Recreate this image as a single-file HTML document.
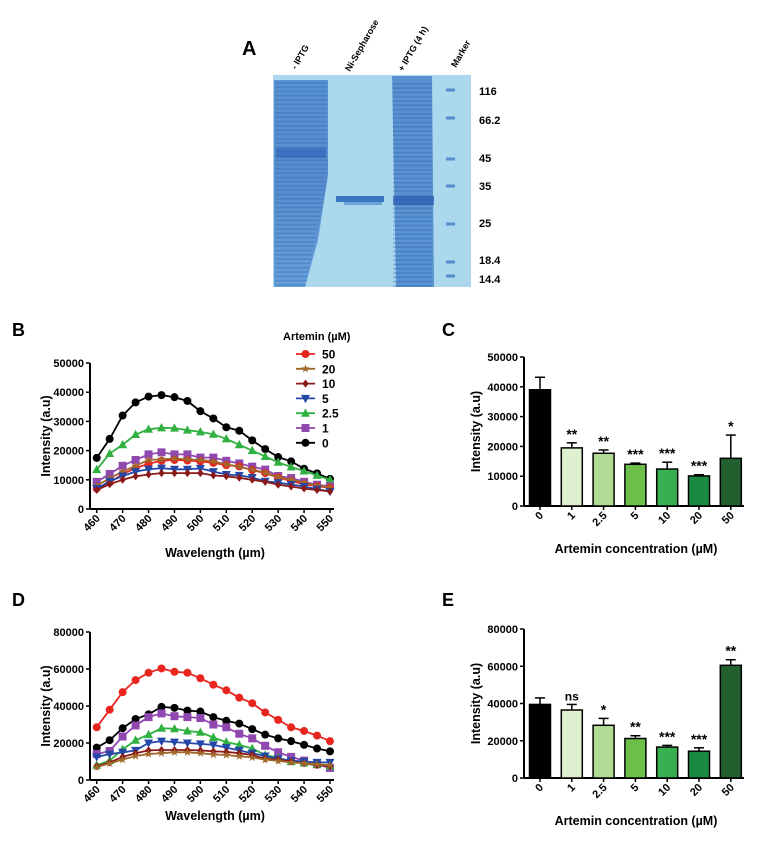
<!DOCTYPE html>
<html><head><meta charset="utf-8"><style>
body{margin:0;background:#fff;width:771px;height:851px;overflow:hidden;font-family:"Liberation Sans",Arial,sans-serif}
svg text{font-family:"Liberation Sans",Arial,sans-serif;font-weight:bold}
</style></head><body>
<svg id="fig" width="771" height="851" viewBox="0 0 771 851" xmlns="http://www.w3.org/2000/svg">
<g id="gel">
<text x="242" y="55" font-size="20">A</text>
<defs>
<linearGradient id="l1" x1="0" y1="0" x2="0" y2="1"><stop offset="0" stop-color="#4a86cc"/><stop offset="0.5" stop-color="#4a80c8"/><stop offset="1" stop-color="#5a96d4"/></linearGradient>
<linearGradient id="l3" x1="0" y1="0" x2="0" y2="1"><stop offset="0" stop-color="#4c84ca"/><stop offset="1" stop-color="#4a88cc"/></linearGradient>
</defs>
<rect x="273" y="75" width="198" height="212" fill="#acd8ee"/>
<polygon points="274,80 328,80 328,175 318,240 305,287 274,287" fill="url(#l1)" opacity="0.85"/>
<polygon points="392,76 432,76 434,287 396,287" fill="url(#l3)" opacity="0.85"/>
<rect x="336" y="196" width="48" height="6" fill="#3a78c6"/>
<rect x="344" y="202" width="38" height="3" fill="#6aa4d8"/>
<g id="gelbands"></g>
<g font-size="11">
<text transform="translate(296,70) rotate(-60)" font-size="9">- IPTG</text>
<text transform="translate(350,72) rotate(-60)" font-size="9">Ni-Sepharose</text>
<text transform="translate(403,72) rotate(-60)" font-size="9">+ IPTG (4 h)</text>
<text transform="translate(456,68) rotate(-60)" font-size="9">Marker</text>
</g>
<g font-size="11">
<text x="479" y="95">116</text><text x="479" y="124">66.2</text><text x="479" y="162">45</text><text x="479" y="190">35</text><text x="479" y="227">25</text><text x="479" y="264">18.4</text><text x="479" y="283">14.4</text>
</g>
</g>
<text x="12" y="336" font-size="18">B</text>
<text x="12" y="606" font-size="18">D</text>
<text x="442" y="336" font-size="18">C</text>
<text x="442" y="606" font-size="18">E</text>
<g id="pB"></g>
<g id="pD"></g>
<g id="pC"></g>
<g id="pE"></g>
</svg>
<script>
const NS="http://www.w3.org/2000/svg";
const wavelengths=[460,465,470,475,480,485,490,495,500,505,510,515,520,525,530,535,540,545,550];
const xTicks=[460,470,480,490,500,510,520,530,540,550];
const seriesNames=["50","20","10","5","2.5","1","0"];
const seriesColors=["#e8251f","#a0682a","#8a1a1a","#2448a8","#30b040","#9048b0","#000000"];
const seriesMarkers=["circle","star","diamond","down","up","square","circle"];
const bS50=[7000,9000,12000,14000,15500,16500,16800,16600,16300,15800,15000,14600,13300,12300,10800,9600,8500,7800,7300];
const bS20=[8000,10500,12800,14800,16800,17000,17300,17000,16800,16300,15300,14500,13500,12500,11000,10000,9000,8000,7500];
const bS10=[6500,8500,10000,11200,11800,12300,12300,12300,12300,11500,11200,10700,10000,9300,8300,7700,7000,6500,6000];
const bS5=[7000,9500,11300,12800,13600,14000,13600,13600,13900,12800,11800,11500,10800,9500,9000,8400,7700,6800,6000];
const bS25=[13500,19000,22000,25500,27300,27800,27700,27000,26400,25600,24000,22000,20000,18000,16000,14400,13000,11500,10000];
const bS1=[9300,12000,14800,16800,18700,19400,18700,18700,17600,17600,16500,15600,14500,13500,11300,10600,9300,8300,7800];
const bS0=[17500,24000,32000,36500,38500,39000,38300,37000,33500,31000,28000,26800,23500,20500,17800,16300,13800,12200,10300];
const dS50=[28500,38000,47500,54000,58000,60300,58500,58000,55000,51500,48500,44500,41500,36500,32500,28500,26500,24000,21000];
const dS20=[7000,9000,11000,13000,14000,14500,15000,15000,14500,13800,13500,12800,12200,11000,10300,9500,9000,8500,8000];
const dS10=[7500,9500,12500,14500,16000,16200,16200,16200,16000,15500,15200,14500,13500,11500,11000,10000,9000,8000,7500];
const dS5=[12500,14000,15000,16000,20000,21000,20500,20000,19500,19000,17500,16000,14500,13000,11500,10500,10000,9500,9500];
const dS25=[8000,10500,16500,21500,24500,28000,27700,26500,25800,23000,20500,19000,17000,13500,12000,10000,9200,8500,7500];
const dS1=[14000,15700,23500,29500,34000,36000,34500,34000,33500,30000,28500,25000,22500,18500,15000,12500,10500,8500,6500];
const dS0=[17500,21500,28000,33000,35500,39500,39000,37500,37000,34000,32000,30500,27500,24500,22500,21000,19000,17000,15500];
const bYTicks=[0,10000,20000,30000,40000,50000];
const dYTicks=[0,20000,40000,60000,80000];
const barCats=["0","1","2.5","5","10","20","50"];
const barColors=["#000000","#dff0d0","#b2dc96","#6cc04a","#36b050","#1a8a42","#236030"];
const cMeans=[39000,19500,17700,14000,12400,10100,16000];
const cErr=[4200,1700,1100,400,2300,400,7800];
const cSig=["","**","**","***","***","***","*"];
const eMeans=[39500,36500,28300,21200,16600,14400,60500];
const eErr=[3500,3000,3700,1500,900,1800,3000];
const eSig=["","ns","*","**","***","***","**"];

function el(tag,attrs,parent){const e=document.createElementNS(NS,tag);for(const k in attrs)e.setAttribute(k,attrs[k]);parent.appendChild(e);return e;}
function txt(parent,x,y,s,size,anchor,tr){const t=el("text",{x:x,y:y,"font-size":size,"text-anchor":anchor||"start"},parent);if(tr)t.setAttribute("transform",tr);t.textContent=s;return t;}
function marker(g,type,x,y,c){let m;const r=4;
 if(type=="circle")m=el("circle",{cx:x,cy:y,r:r,fill:c},g);
 else if(type=="square")m=el("rect",{x:x-r,y:y-r,width:2*r,height:2*r,fill:c},g);
 else if(type=="up")m=el("polygon",{points:`${x},${y-r-0.8} ${x-r-0.5},${y+r-0.5} ${x+r+0.5},${y+r-0.5}`,fill:c},g);
 else if(type=="down")m=el("polygon",{points:`${x},${y+r+0.8} ${x-r-0.5},${y-r+0.5} ${x+r+0.5},${y-r+0.5}`,fill:c},g);
 else if(type=="diamond")m=el("polygon",{points:`${x},${y-r} ${x+r*0.8},${y} ${x},${y+r} ${x-r*0.8},${y}`,fill:c},g);
 else {let p=[];for(let i=0;i<10;i++){const a=-Math.PI/2+i*Math.PI/5,rr=i%2?1.7:r+0.6;p.push((x+rr*Math.cos(a)).toFixed(1)+","+(y+rr*Math.sin(a)).toFixed(1));}m=el("polygon",{points:p.join(" "),fill:c},g);}
 
 
}
function lineChart(g,series,yTicks,y0,yTop,xLabelY,order){
 const xL=96.7,xR=330,ax=90,ymax=yTicks[yTicks.length-1];
 const X=v=>xL+(v-460)/(550-460)*(xR-xL), Y=v=>y0-v/ymax*(y0-yTop);
 el("line",{x1:ax,y1:yTop,x2:ax,y2:y0,stroke:"#000","stroke-width":2},g);
 el("line",{x1:ax,y1:y0,x2:xR+4,y2:y0,stroke:"#000","stroke-width":2},g);
 yTicks.forEach(t=>{el("line",{x1:ax-4,y1:Y(t),x2:ax,y2:Y(t),stroke:"#000","stroke-width":1.5},g);txt(g,ax-6,Y(t)+4,String(t),11,"end");});
 xTicks.forEach(t=>{el("line",{x1:X(t),y1:y0,x2:X(t),y2:y0+4,stroke:"#000","stroke-width":1.5},g);txt(g,X(t)+4,y0+10,String(t),11,"end",`rotate(-45 ${X(t)+4} ${y0+10})`);});
 txt(g,(ax+xR)/2+5,xLabelY,"Wavelength (µm)",12.5,"middle");
 txt(g,50,(y0+yTop)/2,"Intensity (a.u)",12.5,"middle",`rotate(-90 50 ${(y0+yTop)/2})`);
 order.forEach(i=>{const s=series[i];const sg=el("g",{},g);
  
  
  el("polyline",{points:s.map((v,j)=>X(wavelengths[j]).toFixed(1)+","+Y(v).toFixed(1)).join(" "),fill:"none",stroke:seriesColors[i],"stroke-width":1.8},sg);
  s.forEach((v,j)=>marker(sg,seriesMarkers[i],X(wavelengths[j]),Y(v),seriesColors[i]));});
}
function barChart(g,means,errs,sig,yTicks,y0,yTop){
 const ax=524,xR=744,ymax=yTicks[yTicks.length-1],Y=v=>y0-v/ymax*(y0-yTop),step=31.8,bw=21;
 const cx=i=>540+i*step;
 el("line",{x1:ax,y1:yTop,x2:ax,y2:y0,stroke:"#000","stroke-width":2},g);
 el("line",{x1:ax,y1:y0,x2:xR,y2:y0,stroke:"#000","stroke-width":2},g);
 yTicks.forEach(t=>{el("line",{x1:ax-4,y1:Y(t),x2:ax,y2:Y(t),stroke:"#000","stroke-width":1.5},g);txt(g,ax-6,Y(t)+4,String(t),11,"end");});
 means.forEach((m,i)=>{
  const b=el("rect",{x:cx(i)-bw/2,y:Y(m),width:bw,height:y0-Y(m),fill:barColors[i],stroke:"#000","stroke-width":1.5},g);
  
  
  el("line",{x1:cx(i),y1:Y(m),x2:cx(i),y2:Y(m+errs[i]),stroke:"#000","stroke-width":1.5},g);
  el("line",{x1:cx(i)-5,y1:Y(m+errs[i]),x2:cx(i)+5,y2:Y(m+errs[i]),stroke:"#000","stroke-width":1.5},g);
  if(sig[i]){const s=txt(g,cx(i),Y(m+errs[i])-4,sig[i],sig[i]=="ns"?12:14,"middle");s.setAttribute("font-weight",sig[i]=="ns"?"bold":"normal");}
  el("line",{x1:cx(i),y1:y0,x2:cx(i),y2:y0+4,stroke:"#000","stroke-width":1.5},g);
  txt(g,cx(i)+4,y0+10,barCats[i],11,"end",`rotate(-45 ${cx(i)+4} ${y0+10})`);
 });
 txt(g,636,y0+47,"Artemin concentration (µM)",12.5,"middle");
 txt(g,480,(y0+yTop)/2,"Intensity (a.u)",12.5,"middle",`rotate(-90 480 ${(y0+yTop)/2})`);
}
const order=[6,4,5,0,1,3,2];
lineChart(document.getElementById("pB"),[bS50,bS20,bS10,bS5,bS25,bS1,bS0],bYTicks,509,363,557,order);
lineChart(document.getElementById("pD"),[dS50,dS20,dS10,dS5,dS25,dS1,dS0],dYTicks,780,632,820,[0,6,5,4,3,2,1]);
barChart(document.getElementById("pC"),cMeans,cErr,cSig,bYTicks,506,357);
barChart(document.getElementById("pE"),eMeans,eErr,eSig,dYTicks,778,629);
const lg=el("g",{},document.getElementById("pB"));


txt(lg,283,340,"Artemin (µM)",11,"start");
seriesNames.forEach((n,i)=>{const y=354+i*14.8;const e=el("g",{},lg);
 
 
 el("line",{x1:296,y1:y,x2:315,y2:y,stroke:seriesColors[i],"stroke-width":1.8},e);
 marker(e,seriesMarkers[i],305.5,y,seriesColors[i]);
 txt(e,322,y+4.5,n,12,"start");});
const gb=document.getElementById("gelbands");
for(let y=82;y<285;y+=4.3){
 el("rect",{x:275,y:y,width:52-(y>180?(y-180)*0.2:0),height:1.6,fill:"#2c64b4",opacity:0.35},gb);
 el("rect",{x:393,y:y+1,width:39,height:1.6,fill:"#2a5eb0",opacity:0.35},gb);
}
el("rect",{x:276,y:148,width:50,height:10,fill:"#2f5fb6",opacity:0.6},gb);
el("rect",{x:393,y:196,width:41,height:9,fill:"#2c58b0",opacity:0.7},gb);
[90,118,159,186,224,262,276].forEach(y=>el("rect",{x:446,y:y-1.5,width:9,height:3,fill:"#3f7cc6",opacity:0.8},gb));
</script>
</body></html>
